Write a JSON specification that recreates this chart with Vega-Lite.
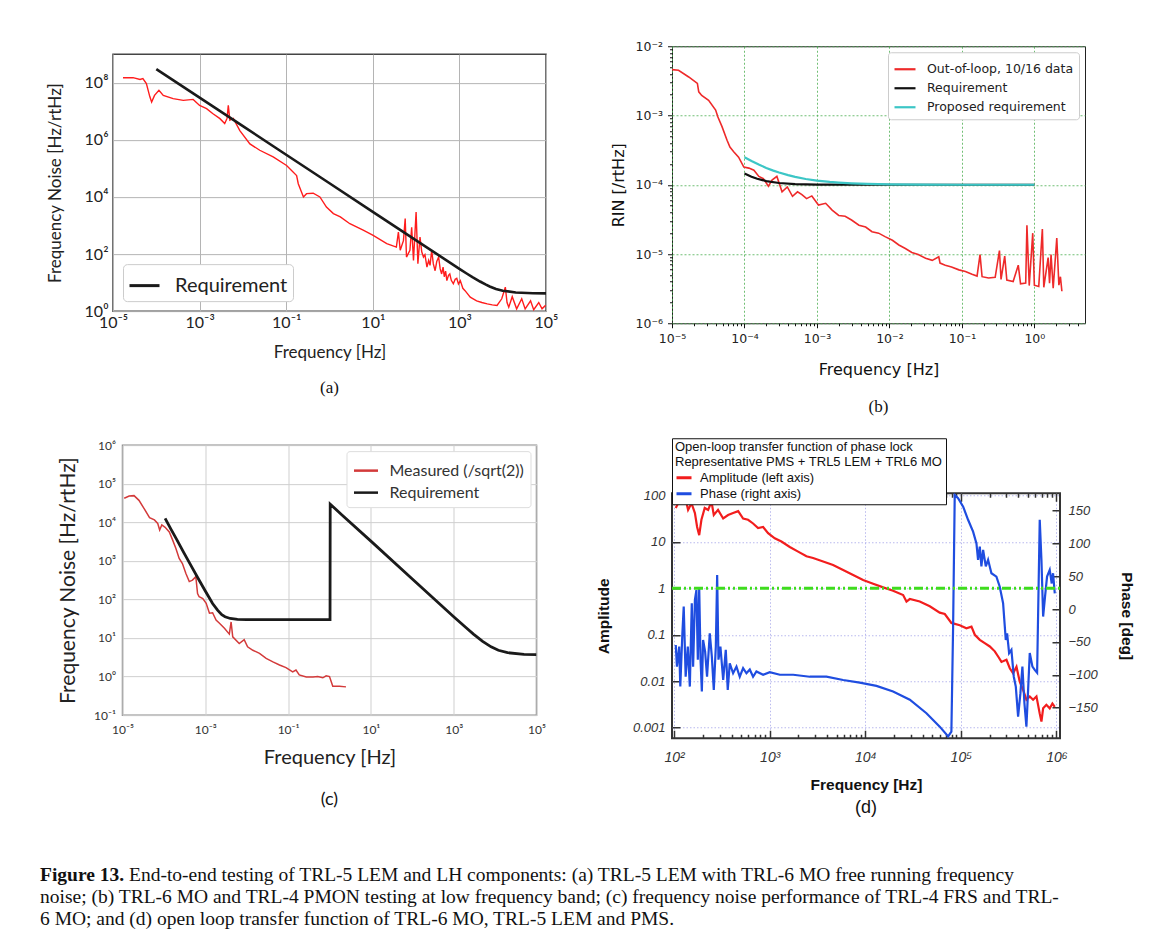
{
  "$schema": "https://vega.github.io/schema/vega-lite/v6.json",
  "background": "white",
  "padding": {"left": 40, "top": 39, "right": 5, "bottom": 0},
  "spacing": 22,
  "resolve": {"scale": {"color": "independent"}, "legend": {"color": "independent"}},
  "datasets": {
    "a_red": [{"f":1.7e-5,"v":1.48e8},{"f":2.9e-5,"v":1.5e8},{"f":4.2e-5,"v":1.3e8},{"f":4.9e-5,"v":1.4e8},{"f":5.9e-5,"v":9.3e7},{"f":7.1e-5,"v":3.2e7},{"f":7.8e-5,"v":2.1e7},{"f":9.1e-5,"v":3.6e7},{"f":1.15e-4,"v":5.4e7},{"f":1.45e-4,"v":3.6e7},{"f":2.45e-4,"v":2.75e7},{"f":4.2e-4,"v":2.4e7},{"f":7.1e-4,"v":2.6e7},{"f":1.0e-3,"v":1.6e7},{"f":1.45e-3,"v":1.23e7},{"f":2.0e-3,"v":8.3e6},{"f":2.95e-3,"v":5.5e6},{"f":3.8e-3,"v":3.7e6},{"f":4.3e-3,"v":5.6e6},{"f":4.6e-3,"v":1.6e7},{"f":5.0e-3,"v":4.9e6},{"f":6.0e-3,"v":5.6e6},{"f":8.5e-3,"v":2.1e6},{"f":1.45e-2,"v":7.2e5},{"f":2.45e-2,"v":4.3e5},{"f":5.0e-2,"v":2.5e5},{"f":0.102,"v":1.26e5},{"f":0.174,"v":5.6e4},{"f":0.19,"v":2.9e4},{"f":0.25,"v":1.0e4},{"f":0.295,"v":1.3e4},{"f":0.42,"v":1.35e4},{"f":0.6,"v":1.0e4},{"f":0.85,"v":4.4e3},{"f":1.23,"v":2.6e3},{"f":1.78,"v":2.0e3},{"f":2.95,"v":1.15e3},{"f":6.0,"v":680},{"f":10.2,"v":450},{"f":21,"v":230},{"f":35,"v":175},{"f":39,"v":590},{"f":43,"v":135},{"f":51,"v":295},{"f":56,"v":1740},{"f":60,"v":78},{"f":72,"v":135},{"f":79,"v":870},{"f":87,"v":59},{"f":100,"v":2950},{"f":110,"v":46},{"f":123,"v":390},{"f":135,"v":120},{"f":148,"v":78},{"f":160,"v":95},{"f":178,"v":35},{"f":195,"v":60},{"f":210,"v":40},{"f":229,"v":135},{"f":250,"v":45},{"f":275,"v":26},{"f":300,"v":55},{"f":331,"v":78},{"f":360,"v":30},{"f":389,"v":20},{"f":420,"v":35},{"f":447,"v":16},{"f":480,"v":25},{"f":513,"v":11.7},{"f":560,"v":18},{"f":600,"v":20},{"f":650,"v":12},{"f":724,"v":9.1},{"f":800,"v":13},{"f":870,"v":14},{"f":950,"v":9},{"f":1050,"v":11.7},{"f":1200,"v":6.3},{"f":1350,"v":5.2},{"f":1780,"v":3.1},{"f":2500,"v":2.3},{"f":3300,"v":2.0},{"f":4400,"v":1.8},{"f":5750,"v":1.66},{"f":7400,"v":1.58},{"f":9500,"v":2.7},{"f":11500,"v":6.9},{"f":12600,"v":2.0},{"f":13800,"v":1.38},{"f":16600,"v":3.2},{"f":21000,"v":1.2},{"f":27500,"v":2.7},{"f":33000,"v":1.2},{"f":44000,"v":2.3},{"f":52000,"v":1.12},{"f":68000,"v":2.0},{"f":81000,"v":1.2},{"f":98000,"v":1.6}],
    "a_req": [{"f":1e-4,"v":3e8},{"f":1e-3,"v":3e7},{"f":1e-2,"v":3e6},{"f":0.1,"v":3e5},{"f":1,"v":3e4},{"f":10,"v":3000},{"f":100,"v":300},{"f":1000,"v":30.3},{"f":1500,"v":20.4},{"f":2000,"v":15.6},{"f":3000,"v":10.9},{"f":4000,"v":8.6},{"f":5000,"v":7.3},{"f":7000,"v":6.0},{"f":10000,"v":5.2},{"f":20000,"v":4.5},{"f":50000,"v":4.25},{"f":100000,"v":4.2}],
    "b_red": [{"f":1e-5,"v":4.6e-3},{"f":1.23e-5,"v":4.5e-3},{"f":1.7e-5,"v":3.6e-3},{"f":2.24e-5,"v":2.9e-3},{"f":2.34e-5,"v":2.2e-3},{"f":2.57e-5,"v":1.95e-3},{"f":3.2e-5,"v":1.66e-3},{"f":4.0e-5,"v":1.2e-3},{"f":4.3e-5,"v":9.5e-4},{"f":4.9e-5,"v":6.9e-4},{"f":5.75e-5,"v":4.4e-4},{"f":6.3e-5,"v":3.5e-4},{"f":7.1e-5,"v":3.0e-4},{"f":8.3e-5,"v":2.5e-4},{"f":9.8e-5,"v":1.8e-4},{"f":1.15e-4,"v":1.74e-4},{"f":1.35e-4,"v":1.62e-4},{"f":1.58e-4,"v":1.32e-4},{"f":1.82e-4,"v":1.23e-4},{"f":2.14e-4,"v":9.5e-5},{"f":2.4e-4,"v":1.17e-4},{"f":2.8e-4,"v":1.32e-4},{"f":3.3e-4,"v":7.9e-5},{"f":3.9e-4,"v":9.3e-5},{"f":4.6e-4,"v":6.8e-5},{"f":5.4e-4,"v":7.9e-5},{"f":6.2e-4,"v":7.2e-5},{"f":7.2e-4,"v":6.3e-5},{"f":8.5e-4,"v":6.9e-5},{"f":1.05e-3,"v":5.1e-5},{"f":1.32e-3,"v":5.4e-5},{"f":1.62e-3,"v":4.3e-5},{"f":2.0e-3,"v":3.6e-5},{"f":2.45e-3,"v":3.5e-5},{"f":3.0e-3,"v":3.1e-5},{"f":3.8e-3,"v":2.6e-5},{"f":4.7e-3,"v":2.45e-5},{"f":5.75e-3,"v":2.1e-5},{"f":7.1e-3,"v":2.0e-5},{"f":8.7e-3,"v":1.78e-5},{"f":1.1e-2,"v":1.58e-5},{"f":1.35e-2,"v":1.35e-5},{"f":1.66e-2,"v":1.2e-5},{"f":2.04e-2,"v":1.05e-5},{"f":2.5e-2,"v":9.8e-6},{"f":3.16e-2,"v":8.7e-6},{"f":3.9e-2,"v":8.1e-6},{"f":4.8e-2,"v":9.1e-6},{"f":5.0e-2,"v":7.4e-6},{"f":5.9e-2,"v":6.9e-6},{"f":7.2e-2,"v":6.5e-6},{"f":9.1e-2,"v":5.9e-6},{"f":0.112,"v":5.6e-6},{"f":0.138,"v":5.1e-6},{"f":0.162,"v":4.8e-6},{"f":0.178,"v":9.8e-6},{"f":0.19,"v":4.7e-6},{"f":0.234,"v":4.5e-6},{"f":0.288,"v":4.6e-6},{"f":0.33,"v":1.12e-5},{"f":0.347,"v":4.3e-6},{"f":0.39,"v":9.3e-6},{"f":0.417,"v":4.2e-6},{"f":0.51,"v":4.0e-6},{"f":0.6,"v":6.9e-6},{"f":0.645,"v":3.7e-6},{"f":0.76,"v":3.8e-6},{"f":0.79,"v":2.6e-5},{"f":0.85,"v":3.5e-6},{"f":0.95,"v":2.0e-5},{"f":1.0,"v":3.55e-6},{"f":1.15,"v":3.4e-6},{"f":1.29,"v":2.3e-5},{"f":1.35,"v":3.3e-6},{"f":1.55,"v":8.9e-6},{"f":1.62,"v":3.8e-6},{"f":1.7,"v":9.8e-6},{"f":1.82,"v":3.2e-6},{"f":2.04,"v":1.7e-5},{"f":2.18,"v":3.55e-6},{"f":2.29,"v":4.7e-6},{"f":2.4,"v":2.9e-6}],
    "b_req": [{"f":1e-4,"v":1.45e-4},{"f":1.25e-4,"v":1.306e-4},{"f":1.5e-4,"v":1.22e-4},{"f":2e-4,"v":1.13e-4},{"f":3e-4,"v":1.06e-4},{"f":5e-4,"v":1.022e-4},{"f":1e-3,"v":1.0055e-4},{"f":1e-2,"v":1.0e-4},{"f":1,"v":1.0e-4}],
    "b_prop": [{"f":1e-4,"v":2.5e-4},{"f":1.25e-4,"v":2.2e-4},{"f":1.6e-4,"v":1.94e-4},{"f":2e-4,"v":1.75e-4},{"f":2.5e-4,"v":1.6e-4},{"f":3e-4,"v":1.5e-4},{"f":4e-4,"v":1.375e-4},{"f":5e-4,"v":1.3e-4},{"f":7e-4,"v":1.21e-4},{"f":1e-3,"v":1.15e-4},{"f":1.5e-3,"v":1.1e-4},{"f":2e-3,"v":1.075e-4},{"f":3e-3,"v":1.05e-4},{"f":5e-3,"v":1.03e-4},{"f":1e-2,"v":1.015e-4},{"f":3e-2,"v":1.005e-4},{"f":0.1,"v":1e-4},{"f":1,"v":1e-4}],
    "c_red": [{"f":1.1e-5,"v":4.2e4},{"f":1.45e-5,"v":4.8e4},{"f":1.9e-5,"v":4.9e4},{"f":2.5e-5,"v":3.7e4},{"f":3.3e-5,"v":2.3e4},{"f":4.5e-5,"v":1.32e4},{"f":5.9e-5,"v":1.15e4},{"f":7.1e-5,"v":9.3e3},{"f":7.9e-5,"v":6.3e3},{"f":8.9e-5,"v":8.5e3},{"f":1.07e-4,"v":7.4e3},{"f":1.35e-4,"v":5.6e3},{"f":1.62e-4,"v":3.5e3},{"f":1.95e-4,"v":2.1e3},{"f":2.34e-4,"v":1.15e3},{"f":2.8e-4,"v":850},{"f":3.4e-4,"v":470},{"f":4.1e-4,"v":290},{"f":4.9e-4,"v":316},{"f":5.9e-4,"v":390},{"f":6.5e-4,"v":141},{"f":7.1e-4,"v":117},{"f":8.7e-4,"v":105},{"f":1.05e-3,"v":79},{"f":1.26e-3,"v":44},{"f":1.5e-3,"v":45},{"f":1.82e-3,"v":29},{"f":2.2e-3,"v":24},{"f":2.9e-3,"v":17.8},{"f":3.8e-3,"v":12.6},{"f":4.2e-3,"v":26},{"f":4.6e-3,"v":10.7},{"f":6.6e-3,"v":7.2},{"f":8.7e-3,"v":9.1},{"f":1.05e-2,"v":5.9},{"f":1.41e-2,"v":4.8},{"f":2.04e-2,"v":4.0},{"f":2.95e-2,"v":2.95},{"f":4.3e-2,"v":2.4},{"f":6.2e-2,"v":2.0},{"f":8.9e-2,"v":1.7},{"f":0.129,"v":1.32},{"f":0.155,"v":1.48},{"f":0.186,"v":1.1},{"f":0.275,"v":0.98},{"f":0.4,"v":0.98},{"f":0.52,"v":1.0},{"f":0.69,"v":0.93},{"f":0.83,"v":1.05},{"f":1.0,"v":1.0},{"f":1.2,"v":0.56},{"f":1.74,"v":0.56},{"f":2.5,"v":0.54}],
    "c_req": [{"f":1.07e-4,"v":1.26e4},{"f":1.5e-4,"v":6450},{"f":2e-4,"v":3700},{"f":3e-4,"v":1660},{"f":5e-4,"v":617},{"f":7e-4,"v":323},{"f":1e-3,"v":165},{"f":1.5e-3,"v":78},{"f":2e-3,"v":52},{"f":2.5e-3,"v":40},{"f":3e-3,"v":35.5},{"f":4e-3,"v":32},{"f":6e-3,"v":30.4},{"f":1e-2,"v":30},{"f":1.03,"v":30},{"f":1.04,"v":29500},{"f":2,"v":15500},{"f":10,"v":3240},{"f":100,"v":340},{"f":1000,"v":35.7},{"f":2000,"v":18.4},{"f":3000,"v":12.6},{"f":5000,"v":8.2},{"f":8000,"v":5.9},{"f":12000,"v":4.8},{"f":20000,"v":4.15},{"f":50000,"v":3.78},{"f":100000,"v":3.72}],
    "d_amp": [{"f":104,"v":54},{"f":115,"v":81},{"f":129,"v":102},{"f":140,"v":49},{"f":152,"v":68},{"f":165,"v":42},{"f":174,"v":21},{"f":183,"v":14},{"f":193,"v":30},{"f":209,"v":54},{"f":227,"v":49},{"f":246,"v":74},{"f":260,"v":38},{"f":288,"v":49},{"f":326,"v":32},{"f":367,"v":38},{"f":414,"v":42},{"f":468,"v":46},{"f":527,"v":32},{"f":594,"v":30},{"f":670,"v":25},{"f":756,"v":20},{"f":853,"v":21},{"f":962,"v":15.5},{"f":1130,"v":12},{"f":1327,"v":10.2},{"f":1622,"v":7.8},{"f":1983,"v":6.2},{"f":2423,"v":4.9},{"f":2843,"v":4.5},{"f":3622,"v":3.8},{"f":4603,"v":3.2},{"f":5865,"v":2.5},{"f":7464,"v":1.95},{"f":9490,"v":1.51},{"f":12080,"v":1.26},{"f":15380,"v":1.05},{"f":19540,"v":0.89},{"f":24890,"v":0.72},{"f":26980,"v":0.52},{"f":29240,"v":0.59},{"f":37150,"v":0.52},{"f":47320,"v":0.41},{"f":60140,"v":0.30},{"f":67920,"v":0.28},{"f":79620,"v":0.18},{"f":97500,"v":0.16},{"f":114300,"v":0.138},{"f":129100,"v":0.15},{"f":140000,"v":0.1},{"f":157800,"v":0.078},{"f":177800,"v":0.066},{"f":200900,"v":0.056},{"f":226500,"v":0.044},{"f":245500,"v":0.034},{"f":266100,"v":0.026},{"f":300000,"v":0.029},{"f":325100,"v":0.019},{"f":352400,"v":0.0148},{"f":382000,"v":0.0204},{"f":413000,"v":0.0098},{"f":448000,"v":0.0065},{"f":485300,"v":0.004},{"f":526000,"v":0.0047},{"f":570000,"v":0.004},{"f":618000,"v":0.0047},{"f":669000,"v":0.002},{"f":697000,"v":0.00135},{"f":726000,"v":0.0026},{"f":785000,"v":0.0031},{"f":851000,"v":0.0026},{"f":908000,"v":0.0033},{"f":961000,"v":0.0028}],
    "d_phase": [{"f":104,"p":-54.6},{"f":107,"p":-87.6},{"f":113,"p":-57},{"f":116,"p":-118},{"f":122,"p":-36.8},{"f":126,"p":4},{"f":132,"p":-103},{"f":139,"p":-57},{"f":146,"p":-118},{"f":153,"p":9},{"f":158,"p":-87.6},{"f":165,"p":14},{"f":171,"p":29},{"f":177,"p":-77},{"f":183,"p":32},{"f":189,"p":-77},{"f":195,"p":-125.6},{"f":201,"p":-47},{"f":211,"p":-64.7},{"f":221,"p":-103},{"f":236,"p":-36.8},{"f":248,"p":-72},{"f":260,"p":-123},{"f":273,"p":-57},{"f":282,"p":52},{"f":291,"p":-77},{"f":305,"p":-57},{"f":326,"p":-108},{"f":347,"p":-62},{"f":364,"p":-123},{"f":382,"p":-82.5},{"f":414,"p":-97.7},{"f":449,"p":-87.6},{"f":486,"p":-103},{"f":527,"p":-90},{"f":571,"p":-97.7},{"f":619,"p":-92},{"f":670,"p":-103},{"f":726,"p":-95},{"f":853,"p":-100},{"f":1002,"p":-96},{"f":1276,"p":-100},{"f":1760,"p":-100},{"f":2625,"p":-103},{"f":3926,"p":-103},{"f":5865,"p":-108},{"f":8750,"p":-112},{"f":13090,"p":-117},{"f":19540,"p":-125.6},{"f":29240,"p":-138},{"f":43650,"p":-158.6},{"f":60140,"p":-179},{"f":73620,"p":-194},{"f":79620,"p":-186.5},{"f":82990,"p":-26.6},{"f":86300,"p":173.9},{"f":93540,"p":169},{"f":105700,"p":156},{"f":119000,"p":136},{"f":134300,"p":118},{"f":145600,"p":100},{"f":151400,"p":75},{"f":157800,"p":95},{"f":164100,"p":65},{"f":171000,"p":90},{"f":182400,"p":65},{"f":192800,"p":75},{"f":208900,"p":54.6},{"f":235500,"p":49.5},{"f":255300,"p":34},{"f":276700,"p":9},{"f":295100,"p":-47},{"f":304800,"p":-36.8},{"f":319900,"p":-67},{"f":338100,"p":-62},{"f":358100,"p":-103},{"f":375800,"p":-118},{"f":397200,"p":-163.7},{"f":420000,"p":-128},{"f":440500,"p":-87.6},{"f":462400,"p":-143},{"f":485300,"p":-179},{"f":505500,"p":-123},{"f":526000,"p":-67},{"f":561000,"p":-87.6},{"f":593000,"p":-92.6},{"f":628000,"p":-97},{"f":669000,"p":136},{"f":697000,"p":75},{"f":726000,"p":-11.4},{"f":760000,"p":19},{"f":798000,"p":49.5},{"f":851000,"p":59.6},{"f":893000,"p":39},{"f":922000,"p":54.6},{"f":961000,"p":24}],
    "d_one": [{"f":95,"v":1},{"f":1090000,"v":1}],
    "caption": [
      {"line":1,"lead":"Figure 13.","text":"End-to-end testing of TRL-5 LEM and LH components: (a) TRL-5 LEM with TRL-6 MO free running frequency"},
      {"line":2,"lead":"","text":"noise; (b) TRL-6 MO and TRL-4 PMON testing at low frequency band; (c) frequency noise performance of TRL-4 FRS and TRL-"},
      {"line":3,"lead":"","text":"6 MO; and (d) open loop transfer function of TRL-6 MO, TRL-5 LEM and PMS."}
    ]
  },
  "vconcat": [
    {
      "resolve": {"scale": {"color": "independent"}, "legend": {"color": "independent"}},
      "center": true,
      "spacing": 36,
      "hconcat": [
        {
          "resolve": {"scale": {"color": "independent"}, "legend": {"color": "independent"}},
          "bounds": "flush", "center": true, "spacing": 134,
          "vconcat": [
            {
              "width": 433, "height": 257,
              "view": {"stroke": "#444444", "strokeWidth": 1.5},
              "title": {"text": "(a)", "orient": "bottom", "offset": 20, "font": "Liberation Serif", "fontSize": 17, "fontWeight": "normal", "color": "#111111"},
              "layer": [
                {
                  "data": {"name": "a_red"},
                  "mark": {"type": "line", "color": "#ff1c1c", "strokeWidth": 1.4, "clip": true},
                  "encoding": {
                    "x": {"field": "f", "type": "quantitative", "title": "Frequency [Hz]",
                      "scale": {"type": "log", "domain": [1e-5, 1e5], "nice": false},
                      "axis": {"values": [1e-5, 1e-3, 0.1, 10, 1000, 100000],
                        "labelExpr": "'10' + (datum.value < 1 ? '⁻' : '') + ['⁰','¹','²','³','⁴','⁵','⁶','⁷','⁸','⁹'][abs(round(log(datum.value)/LN10))]",
                        "grid": true, "gridColor": "#b4b4b4", "domain": false, "ticks": false, "labelPadding": 3, "labelFlush": false, "labelOverlap": false,
                        "labelFont": "Lato", "labelFontSize": 16, "labelColor": "#222222",
                        "titleFont": "Lato", "titleFontSize": 17, "titleFontWeight": "normal", "titleColor": "#222222", "titlePadding": 14}},
                    "y": {"field": "v", "type": "quantitative", "title": "Frequency Noise [Hz/rtHz]",
                      "scale": {"type": "log", "domain": [1, 1e9], "nice": false},
                      "axis": {"values": [1, 100, 10000, 1000000, 100000000],
                        "labelExpr": "'10' + (datum.value < 1 ? '⁻' : '') + ['⁰','¹','²','³','⁴','⁵','⁶','⁷','⁸','⁹'][abs(round(log(datum.value)/LN10))]",
                        "grid": true, "gridColor": "#b4b4b4", "domain": false, "ticks": false, "labelPadding": 5, "labelOverlap": false,
                        "labelFont": "Lato", "labelFontSize": 16, "labelColor": "#222222",
                        "titleFont": "Lato", "titleFontSize": 17, "titleFontWeight": "normal", "titleColor": "#222222", "titlePadding": 20}}
                  }
                },
                {
                  "data": {"name": "a_req"},
                  "mark": {"type": "line", "strokeWidth": 2.6, "clip": true},
                  "encoding": {
                    "x": {"field": "f", "type": "quantitative"},
                    "y": {"field": "v", "type": "quantitative"},
                    "color": {"datum": "Requirement", "type": "nominal",
                      "scale": {"domain": ["Requirement"], "range": ["#1a1a1a"]},
                      "legend": {"title": null, "orient": "bottom-left", "offset": 10, "symbolType": "stroke", "symbolSize": 900, "symbolStrokeWidth": 3,
                        "labelFont": "Lato", "labelFontSize": 20, "labelColor": "#222222", "labelOffset": 14, "padding": 5,
                        "strokeColor": "#cccccc", "fillColor": "#ffffff", "cornerRadius": 4}}
                  }
                }
              ]
            },
            {
              "width": 414, "height": 270,
              "view": {"stroke": "#8a8a8a", "strokeWidth": 1.5},
              "title": {"text": "(c)", "orient": "bottom", "offset": 24, "font": "Lato", "fontSize": 18, "fontWeight": "normal", "color": "#111111"},
              "layer": [
                {
                  "data": {"name": "c_red"},
                  "mark": {"type": "line", "strokeWidth": 1.5, "clip": true},
                  "encoding": {
                    "x": {"field": "f", "type": "quantitative", "title": "Frequency [Hz]",
                      "scale": {"type": "log", "domain": [1e-5, 1e5], "nice": false},
                      "axis": {"values": [1e-5, 1e-3, 0.1, 10, 1000, 100000],
                        "labelExpr": "'10' + (datum.value < 1 ? '⁻' : '') + ['⁰','¹','²','³','⁴','⁵','⁶','⁷','⁸','⁹'][abs(round(log(datum.value)/LN10))]",
                        "grid": true, "gridColor": "#cfcfcf", "domain": false, "ticks": false, "labelPadding": 9, "labelFlush": false, "labelOverlap": false,
                        "labelFont": "Lato", "labelFontSize": 12, "labelColor": "#333333",
                        "titleFont": "Lato", "titleFontSize": 20, "titleFontWeight": "normal", "titleColor": "#222222", "titlePadding": 12}},
                    "y": {"field": "v", "type": "quantitative", "title": "Frequency Noise [Hz/rtHz]",
                      "scale": {"type": "log", "domain": [0.1, 1e6], "nice": false},
                      "axis": {"values": [0.1, 1, 10, 100, 1000, 10000, 100000, 1000000],
                        "labelExpr": "'10' + (datum.value < 1 ? '⁻' : '') + ['⁰','¹','²','³','⁴','⁵','⁶','⁷','⁸','⁹'][abs(round(log(datum.value)/LN10))]",
                        "grid": true, "gridColor": "#cfcfcf", "domain": false, "ticks": false, "labelPadding": 7, "labelOverlap": false,
                        "labelFont": "Lato", "labelFontSize": 12, "labelColor": "#333333",
                        "titleFont": "Lato", "titleFontSize": 21, "titleFontWeight": "normal", "titleColor": "#222222", "titlePadding": 15}},
                    "color": {"datum": "Measured (/sqrt(2))", "type": "nominal",
                      "scale": {"domain": ["Measured (/sqrt(2))", "Requirement"], "range": ["#d33a3a", "#1a1a1a"]},
                      "legend": {"title": null, "orient": "top-right", "offset": 6, "symbolType": "stroke", "symbolSize": 576, "symbolStrokeWidth": 2.5,
                        "labelFont": "Lato", "labelFontSize": 16, "labelColor": "#333333", "labelOffset": 10, "rowPadding": 0, "padding": 6,
                        "strokeColor": "#dddddd", "fillColor": "#ffffff", "cornerRadius": 3}}
                  }
                },
                {
                  "data": {"name": "c_req"},
                  "mark": {"type": "line", "strokeWidth": 2.8, "clip": true},
                  "encoding": {
                    "x": {"field": "f", "type": "quantitative"},
                    "y": {"field": "v", "type": "quantitative"},
                    "color": {"datum": "Requirement", "type": "nominal"}
                  }
                }
              ]
            }
          ]
        },
        {
          "resolve": {"scale": {"color": "independent"}, "legend": {"color": "independent"}},
          "spacing": 20,
          "vconcat": [
            {
              "width": 413, "height": 277,
              "view": {"stroke": "#222222", "strokeWidth": 1},
              "title": {"text": "(b)", "orient": "bottom", "offset": 22, "font": "Liberation Serif", "fontSize": 17, "fontWeight": "normal", "color": "#111111"},
              "layer": [
                {
                  "data": {"name": "b_red"},
                  "mark": {"type": "line", "strokeWidth": 1.6, "clip": true},
                  "encoding": {
                    "x": {"field": "f", "type": "quantitative", "title": "Frequency [Hz]",
                      "scale": {"type": "log", "domain": [1e-5, 5], "nice": false},
                      "axis": {"values": [1e-5,2e-5,3e-5,4e-5,5e-5,6e-5,7e-5,8e-5,9e-5,1e-4,2e-4,3e-4,4e-4,5e-4,6e-4,7e-4,8e-4,9e-4,1e-3,2e-3,3e-3,4e-3,5e-3,6e-3,7e-3,8e-3,9e-3,0.01,0.02,0.03,0.04,0.05,0.06,0.07,0.08,0.09,0.1,0.2,0.3,0.4,0.5,0.6,0.7,0.8,0.9,1,2,3,4],
                        "labelExpr": "abs(log(datum.value)/LN10 - round(log(datum.value)/LN10)) < 0.001 ? '10' + (datum.value < 1 ? '⁻' : '') + ['⁰','¹','²','³','⁴','⁵','⁶','⁷','⁸','⁹'][abs(round(log(datum.value)/LN10))] : ''",
                        "tickSize": {"condition": {"test": "abs(log(datum.value)/LN10 - round(log(datum.value)/LN10)) < 0.001", "value": 4.5}, "value": 2.5},
                        "tickColor": "#111111",
                        "grid": true, "gridColor": "#4caf50", "gridDash": [2, 2], "gridWidth": 0.8,
                        "gridOpacity": {"condition": {"test": "abs(log(datum.value)/LN10 - round(log(datum.value)/LN10)) < 0.001", "value": 1}, "value": 0},
                        "domain": false, "labelPadding": 5, "labelFlush": false, "labelOverlap": false,
                        "labelFont": "DejaVu Sans", "labelFontSize": 12.5, "labelColor": "#222222",
                        "titleFont": "DejaVu Sans", "titleFontSize": 16, "titleFontWeight": "normal", "titleColor": "#111111", "titlePadding": 16}},
                    "y": {"field": "v", "type": "quantitative", "title": "RIN [/rtHz]",
                      "scale": {"type": "log", "domain": [1e-6, 1e-2], "nice": false},
                      "axis": {"values": [1e-6,2e-6,3e-6,4e-6,5e-6,6e-6,7e-6,8e-6,9e-6,1e-5,2e-5,3e-5,4e-5,5e-5,6e-5,7e-5,8e-5,9e-5,1e-4,2e-4,3e-4,4e-4,5e-4,6e-4,7e-4,8e-4,9e-4,1e-3,2e-3,3e-3,4e-3,5e-3,6e-3,7e-3,8e-3,9e-3,1e-2],
                        "labelExpr": "abs(log(datum.value)/LN10 - round(log(datum.value)/LN10)) < 0.001 ? '10' + (datum.value < 1 ? '⁻' : '') + ['⁰','¹','²','³','⁴','⁵','⁶','⁷','⁸','⁹'][abs(round(log(datum.value)/LN10))] : ''",
                        "tickSize": {"condition": {"test": "abs(log(datum.value)/LN10 - round(log(datum.value)/LN10)) < 0.001", "value": 4.5}, "value": 2.5},
                        "tickColor": "#111111",
                        "grid": true, "gridColor": "#4caf50", "gridDash": [2, 2], "gridWidth": 0.8,
                        "gridOpacity": {"condition": {"test": "abs(log(datum.value)/LN10 - round(log(datum.value)/LN10)) < 0.001", "value": 1}, "value": 0},
                        "domain": false, "labelPadding": 5, "labelOverlap": false,
                        "labelFont": "DejaVu Sans", "labelFontSize": 12.5, "labelColor": "#222222",
                        "titleFont": "DejaVu Sans", "titleFontSize": 16, "titleFontWeight": "normal", "titleColor": "#111111", "titlePadding": 8}},
                    "color": {"datum": "Out-of-loop, 10/16 data", "type": "nominal",
                      "scale": {"domain": ["Out-of-loop, 10/16 data", "Requirement", "Proposed requirement"], "range": ["#ee2a2a", "#111111", "#3cc6c6"]},
                      "legend": {"title": null, "orient": "top-right", "offset": 6, "symbolType": "stroke", "symbolSize": 441, "symbolStrokeWidth": 2.2,
                        "labelFont": "DejaVu Sans", "labelFontSize": 12.5, "labelColor": "#222222", "labelOffset": 10, "rowPadding": 0, "padding": 5,
                        "strokeColor": "#cccccc", "fillColor": "#ffffff", "cornerRadius": 3}}
                  }
                },
                {
                  "data": {"name": "b_req"},
                  "mark": {"type": "line", "strokeWidth": 2.2, "clip": true},
                  "encoding": {
                    "x": {"field": "f", "type": "quantitative"},
                    "y": {"field": "v", "type": "quantitative"},
                    "color": {"datum": "Requirement", "type": "nominal"}
                  }
                },
                {
                  "data": {"name": "b_prop"},
                  "mark": {"type": "line", "strokeWidth": 2.2, "clip": true},
                  "encoding": {
                    "x": {"field": "f", "type": "quantitative"},
                    "y": {"field": "v", "type": "quantitative"},
                    "color": {"datum": "Proposed requirement", "type": "nominal"}
                  }
                }
              ]
            },
            {
              "width": 388, "height": 245,
              "view": {"stroke": "#333333", "strokeWidth": 2},
              "title": {"text": "(d)", "orient": "bottom", "offset": 6, "font": "Liberation Sans", "fontSize": 18, "fontWeight": "normal", "color": "#111111"},
              "resolve": {"scale": {"y": "independent"}, "axis": {"x": "independent", "y": "independent"}},
              "layer": [
                {
                  "data": {"name": "d_amp"},
                  "mark": {"type": "line", "strokeWidth": 2.2, "clip": true},
                  "encoding": {
                    "x": {"field": "f", "type": "quantitative", "title": "Frequency [Hz]",
                      "scale": {"type": "log", "domain": [95, 1090000], "nice": false},
                      "axis": {"orient": "bottom",
                        "values": [100,200,300,400,500,600,700,800,900,1000,2000,3000,4000,5000,6000,7000,8000,9000,10000,20000,30000,40000,50000,60000,70000,80000,90000,100000,200000,300000,400000,500000,600000,700000,800000,900000,1000000],
                        "labelExpr": "abs(log(datum.value)/LN10 - round(log(datum.value)/LN10)) < 0.001 ? '10' + ['⁰','¹','²','³','⁴','⁵','⁶','⁷','⁸','⁹'][abs(round(log(datum.value)/LN10))] : ''",
                        "tickSize": {"condition": {"test": "abs(log(datum.value)/LN10 - round(log(datum.value)/LN10)) < 0.001", "value": -8}, "value": -4},
                        "tickColor": "#333333", "tickWidth": 1.5,
                        "grid": true, "gridColor": "#b9b9ee", "gridDash": [1.5, 2],
                        "gridOpacity": {"condition": {"test": "abs(log(datum.value)/LN10 - round(log(datum.value)/LN10)) < 0.001", "value": 1}, "value": 0},
                        "domain": false, "labelPadding": 20, "labelFlush": false, "labelOverlap": false,
                        "labelFont": "Liberation Sans", "labelFontStyle": "italic", "labelFontSize": 14, "labelColor": "#333333",
                        "titleFont": "Liberation Sans", "titleFontSize": 15.5, "titleFontWeight": "bold", "titleColor": "#111111", "titlePadding": 9}},
                    "y": {"field": "v", "type": "quantitative", "title": "Amplitude",
                      "scale": {"type": "log", "domain": [0.00059, 112], "nice": false},
                      "axis": {"orient": "left", "values": [0.001, 0.01, 0.1, 1, 10, 100], "format": "~g",
                        "tickSize": -8, "tickColor": "#333333", "tickWidth": 1.5,
                        "grid": true, "gridColor": "#b9b9ee", "gridDash": [1.5, 2],
                        "domain": false, "labelPadding": 15, "labelOverlap": false,
                        "labelFont": "Liberation Sans", "labelFontStyle": "italic", "labelFontSize": 13, "labelColor": "#333333",
                        "titleFont": "Liberation Sans", "titleFontSize": 15.5, "titleFontWeight": "bold", "titleColor": "#111111", "titlePadding": 21}},
                    "color": {"datum": "Amplitude (left axis)", "type": "nominal",
                      "scale": {"domain": ["Amplitude (left axis)", "Phase (right axis)"], "range": ["#f21d1d", "#1f4de0"]},
                      "legend": {"title": ["Open-loop transfer function of phase lock", "Representative PMS + TRL5 LEM + TRL6 MO"],
                        "orient": "top", "offset": -12, "direction": "vertical",
                        "strokeColor": "#111111", "fillColor": "#ffffff", "padding": 3,
                        "titleFont": "Liberation Sans", "titleFontSize": 13, "titleFontWeight": "normal", "titleColor": "#111111", "titleLineHeight": 14.5, "titlePadding": 0, "titleLimit": 400,
                        "labelFont": "Liberation Sans", "labelFontSize": 13, "labelColor": "#111111", "labelOffset": 7, "labelLimit": 300,
                        "symbolType": "stroke", "symbolSize": 225, "symbolStrokeWidth": 3, "rowPadding": 0}}
                  }
                },
                {
                  "data": {"name": "d_phase"},
                  "mark": {"type": "line", "strokeWidth": 2.2, "clip": true},
                  "encoding": {
                    "x": {"field": "f", "type": "quantitative",
                      "axis": {"orient": "top",
                        "values": [100,200,300,400,500,600,700,800,900,1000,2000,3000,4000,5000,6000,7000,8000,9000,10000,20000,30000,40000,50000,60000,70000,80000,90000,100000,200000,300000,400000,500000,600000,700000,800000,900000,1000000],
                        "labels": false, "grid": false, "domain": false, "title": null,
                        "tickSize": {"condition": {"test": "abs(log(datum.value)/LN10 - round(log(datum.value)/LN10)) < 0.001", "value": -8}, "value": -4},
                        "tickColor": "#333333", "tickWidth": 1.5}},
                    "y": {"field": "p", "type": "quantitative", "title": "Phase [deg]",
                      "scale": {"domain": [-196.7, 176.4], "nice": false, "zero": false},
                      "axis": {"orient": "right", "values": [-150, -100, -50, 0, 50, 100, 150],
                        "tickSize": -8, "tickColor": "#333333", "tickWidth": 1.5, "grid": false,
                        "domain": false, "labelPadding": 16, "labelOverlap": false,
                        "labelFont": "Liberation Sans", "labelFontStyle": "italic", "labelFontSize": 13, "labelColor": "#333333",
                        "titleFont": "Liberation Sans", "titleFontSize": 15.5, "titleFontWeight": "bold", "titleColor": "#111111", "titlePadding": 21, "titleAngle": 90}},
                    "color": {"datum": "Phase (right axis)", "type": "nominal"}
                  }
                },
                {
                  "data": {"name": "d_one"},
                  "mark": {"type": "line", "color": "#3fdc1e", "strokeWidth": 3, "strokeDash": [9, 3, 2, 3, 2, 3], "clip": true},
                  "encoding": {
                    "x": {"field": "f", "type": "quantitative", "axis": null},
                    "y": {"field": "v", "type": "quantitative", "axis": null,
                      "scale": {"type": "log", "domain": [0.00059, 112], "nice": false}}
                  }
                }
              ]
            }
          ]
        }
      ]
    },
    {
      "width": 1080, "height": 80,
      "view": {"stroke": null},
      "data": {"name": "caption"},
      "encoding": {
        "y": {"field": "line", "type": "ordinal", "axis": null, "scale": {"type": "point", "padding": 0.818, "align": 0.96}}
      },
      "layer": [
        {
          "transform": [{"filter": "datum.line == 1"}],
          "mark": {"type": "text", "align": "left", "baseline": "middle", "x": -73, "font": "Liberation Serif", "fontSize": 19.5, "fontWeight": "bold", "color": "#111111"},
          "encoding": {"text": {"field": "lead"}}
        },
        {
          "transform": [{"filter": "datum.line == 1"}],
          "mark": {"type": "text", "align": "left", "baseline": "middle", "x": -73, "dx": 89, "font": "Liberation Serif", "fontSize": 19.5, "color": "#111111"},
          "encoding": {"text": {"field": "text"}}
        },
        {
          "transform": [{"filter": "datum.line > 1"}],
          "mark": {"type": "text", "align": "left", "baseline": "middle", "x": -73, "font": "Liberation Serif", "fontSize": 19.5, "color": "#111111"},
          "encoding": {"text": {"field": "text"}}
        }
      ]
    }
  ],
  "config": {"view": {"stroke": null}}
}
